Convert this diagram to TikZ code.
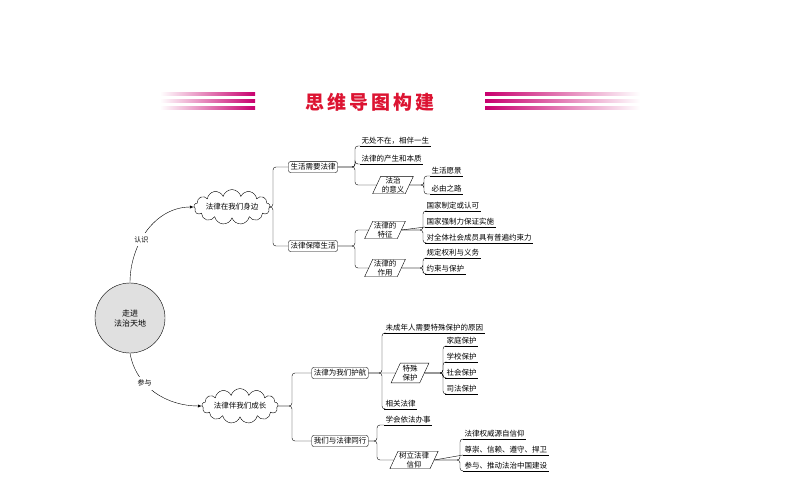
\documentclass[tikz,border=0pt]{standalone}
\usepackage{fontspec}
\setmainfont{Noto Sans CJK SC}
\usetikzlibrary{positioning,shapes.symbols,shapes.geometric}
\definecolor{titlered}{RGB}{220,20,50}
\definecolor{barpink}{RGB}{200,0,110}
\tikzset{
  box/.style={draw,rounded corners=2pt,inner sep=2pt,font=\fontsize{7.5}{8}\selectfont},
  para/.style={draw,trapezium,trapezium left angle=65,trapezium right angle=115,
    align=center,inner sep=1pt,minimum width=38pt,font=\fontsize{7.5}{8.5}\selectfont},
  leaf/.style={anchor=south west,inner sep=1.5pt,font=\fontsize{7.5}{8}\selectfont},
  bubble/.style={draw,cloud,cloud puffs=13,aspect=3.4,inner sep=0pt,font=\fontsize{7.5}{8}\selectfont},
  link/.style={rounded corners=3pt}
}
\newcommand{\uline}[1]{\draw (#1.south west) -- (#1.south east);}
\begin{document}
\begin{tikzpicture}[x=1pt,y=-1pt]
\useasboundingbox (0,0) rectangle (794,495);
% title
\foreach \yy in {94,101,108}{
  \shade[left color=white,right color=barpink] (160,\yy-1.5) rectangle (255,\yy+1.5);
  \shade[left color=barpink,right color=white] (485,\yy-1.5) rectangle (640,\yy+1.5);
}
\node[text=titlered,font=\fontsize{19}{20}\bfseries] (title) at (370,102) {思\,维\,导\,图\,构\,建};
% centre
\node[draw,circle,fill=black!12,minimum size=70pt,align=center,font=\fontsize{8}{10}\selectfont] (core) at (130,318) {走进\\法治天地};
\node[bubble] (near) at (232,207) {法律在我们身边};
\node[bubble] (grow) at (240,406) {法律伴我们成长};
\draw[-latex] (core.north) to[out=90,in=180] node[pos=0.4,fill=white,font=\fontsize{7}{8}\selectfont] {认识} (near.west);
\draw[-latex] (core.south) to[out=-80,in=180] node[pos=0.35,fill=white,font=\fontsize{7}{8}\selectfont] {参与} (grow.west);
% upper branch
\node[box] (need) at (313,167) {生活需要法律};
\node[box] (guard) at (313,246) {法律保障生活};
\draw[link] (near.east) -| (273,180) |- (need.west);
\draw[link] (near.east) -| (273,230) |- (guard.west);
\node[leaf] (l1) at (360,146) {无处不在，相伴一生};
\node[leaf] (l2) at (360,164) {法律的产生和本质};
\node[para] (mean) at (393,185) {法治\\的意义};
\uline{l1}\uline{l2}
\draw[link] (need.east) -| (355,155) |- (l1.south west);
\draw[link] (need.east) -| (355,160) |- (l2.south west);
\draw[link] (need.east) -| (355,175) |- (mean.west);
\node[leaf] (l3) at (430,176) {生活愿景};
\node[leaf] (l4) at (430,194) {必由之路};
\uline{l3}\uline{l4}
\draw[link] (mean.east) -| (424,182) |- (l3.south west);
\draw[link] (mean.east) -| (424,188) |- (l4.south west);
\node[para] (trait) at (385,230) {法律的\\特征};
\node[para] (role) at (385,268) {法律的\\作用};
\draw[link] (guard.east) -| (355,240) |- (trait.west);
\draw[link] (guard.east) -| (355,255) |- (role.west);
\node[leaf] (l5) at (425,211) {国家制定或认可};
\node[leaf] (l6) at (425,227) {国家强制力保证实施};
\node[leaf] (l7) at (425,243) {对全体社会成员具有普遍约束力};
\uline{l5}\uline{l6}\uline{l7}
\draw[link] (trait.east) -| (423,220) |- (l5.south west);
\draw[link] (trait.east) -- (l6.south west);
\draw[link] (trait.east) -| (423,235) |- (l7.south west);
\node[leaf] (l8) at (425,258) {规定权利与义务};
\node[leaf] (l9) at (425,274) {约束与保护};
\uline{l8}\uline{l9}
\draw[link] (role.east) -| (423,264) |- (l8.south west);
\draw[link] (role.east) -| (423,270) |- (l9.south west);
% lower branch
\node[box] (escort) at (340,373) {法律为我们护航};
\node[box] (walk) at (340,441) {我们与法律同行};
\draw[link] (grow.east) -| (292,390) |- (escort.west);
\draw[link] (grow.east) -| (292,420) |- (walk.west);
\node[leaf] (m1) at (384,333) {未成年人需要特殊保护的原因};
\node[para] (spec) at (410,373) {特殊\\保护};
\node[leaf] (m2) at (384,409) {相关法律};
\uline{m1}\uline{m2}
\draw[link] (escort.east) -| (382,350) |- (m1.south west);
\draw[link] (escort.east) -- (spec.west);
\draw[link] (escort.east) -| (382,395) |- (m2.south west);
\node[leaf] (p1) at (445,346) {家庭保护};
\node[leaf] (p2) at (445,362) {学校保护};
\node[leaf] (p3) at (445,378) {社会保护};
\node[leaf] (p4) at (445,394) {司法保护};
\uline{p1}\uline{p2}\uline{p3}\uline{p4}
\draw[link] (spec.east) -| (443,360) |- (p1.south west);
\draw[link] (spec.east) -| (443,368) |- (p2.south west);
\draw[link] (spec.east) -| (443,375) |- (p3.south west);
\draw[link] (spec.east) -| (443,385) |- (p4.south west);
\node[leaf] (n1) at (384,425) {学会依法办事};
\node[para,minimum width=48pt] (faith) at (414,460) {树立法律\\信仰};
\uline{n1}
\draw[link] (walk.east) -| (377,432) |- (n1.south west);
\draw[link] (walk.east) -| (377,450) |- (faith.west);
\node[leaf] (q1) at (463,439) {法律权威源自信仰};
\node[leaf] (q2) at (463,455) {尊崇、信赖、遵守、捍卫};
\node[leaf] (q3) at (463,471) {参与、推动法治中国建设};
\uline{q1}\uline{q2}\uline{q3}
\draw[link] (faith.east) -| (460,448) |- (q1.south west);
\draw[link] (faith.east) -- (q2.south west);
\draw[link] (faith.east) -| (460,465) |- (q3.south west);
\end{tikzpicture}
\end{document}
